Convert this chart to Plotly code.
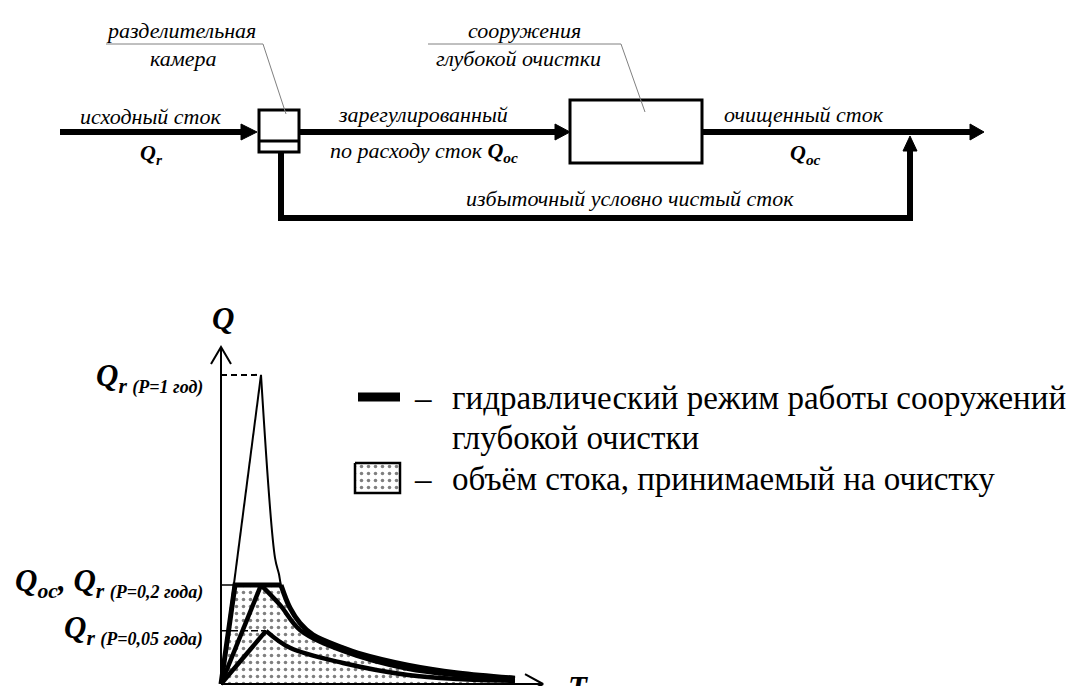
import plotly.graph_objects as go

# ---------------- chart data (arbitrary units: T - time, Q - discharge) ----------------
T_p1 = [0, 4.0, 5.4, 5.8, 6.0, 6.9, 7.9, 9.2, 12.2, 13.7, 18.7, 23.7, 29.4]
Q_p1 = [0, 10.0, 4.08, 3.55, 3.2, 2.46, 1.97, 1.59, 1.17, 1.0, 0.61, 0.36, 0.19]
T_reg = [0, 1.4, 6.0, 6.9, 7.9, 9.2, 12.2, 13.7, 18.7, 23.7, 29.4]
Q_reg = [0, 3.2, 3.2, 2.46, 1.97, 1.59, 1.17, 1.0, 0.61, 0.36, 0.19]
T_p02 = [0, 4.0, 5.9, 7.9, 12.2, 18.7, 23.7, 29.4]
Q_p02 = [0, 3.2, 2.56, 1.75, 1.07, 0.49, 0.29, 0.16]
T_p005 = [0, 4.5, 6.9, 12.2, 18.7, 23.7, 29.4]
Q_p005 = [0, 1.72, 1.17, 0.68, 0.29, 0.16, 0.10]
Q_MAX, T_MAX = 10.0, 4.0
Q_OC, T_OC = 3.2, 4.0
Q_LOW, T_LOW = 1.72, 4.5
T_END, Q_TOP = 32.2, 10.9

FONT = "Liberation Serif, Times New Roman, serif"
fig = go.Figure()

# ---------- chart traces (x2/y2) ----------
def line(x, y, w, shape="linear", dash=None, color="black"):
    fig.add_trace(go.Scatter(x=x, y=y, mode="lines", xaxis="x2", yaxis="y2",
                             line=dict(color=color, width=w, shape=shape, dash=dash),
                             hoverinfo="skip"))

PATTERN = dict(shape=".", fgcolor="black", bgcolor="white", size=7, solidity=0.2)

# stippled area under the hydraulic regime curve
fig.add_trace(go.Scatter(x=T_reg, y=Q_reg, mode="lines", xaxis="x2", yaxis="y2",
                         fill="tozeroy", line=dict(width=0, shape="spline", smoothing=0.3),
                         fillcolor="white", fillpattern=PATTERN, hoverinfo="skip"))

# axes
line([0, 0], [0, Q_TOP], 2)
line([0, T_END], [0, 0], 2)
line([-1.0, 0, 1.0], [Q_TOP - 0.55, Q_TOP, Q_TOP - 0.55], 2)
line([T_END - 1.8, T_END, T_END - 1.8], [0.32, 0, -0.32], 2)

# level lines
line([0, T_MAX], [Q_MAX, Q_MAX], 2, dash="6px,4px")
line([0, T_OC], [Q_OC, Q_OC], 1.5)
line([0, T_LOW], [Q_LOW, Q_LOW], 1.5, dash="7px,3px")

# P = 1 year hydrograph (thin)
ip = Q_p1.index(max(Q_p1))
line(T_p1[:ip + 1], Q_p1[:ip + 1], 2)
line(T_p1[ip:], Q_p1[ip:], 2, shape="spline")

# P = 0.05 year (thick)
ip = Q_p005.index(max(Q_p005))
line(T_p005[:ip + 1], Q_p005[:ip + 1], 4.5)
line(T_p005[ip:], Q_p005[ip:], 4.5, shape="spline")

# P = 0.2 year (thick)
ip = Q_p02.index(max(Q_p02))
line(T_p02[:ip + 1], Q_p02[:ip + 1], 4.5)
line(T_p02[ip:], Q_p02[ip:], 4.5, shape="spline")

# hydraulic regime of deep treatment facilities (thick)
line(T_reg[:3], Q_reg[:3], 5)
line(T_reg[2:], Q_reg[2:], 5, shape="spline")

# ---------- legend marks (pixel overlay axes x/y) ----------
fig.add_trace(go.Scatter(x=[350, 392], y=[389, 389], mode="lines",
                         line=dict(color="black", width=9), hoverinfo="skip"))
fig.add_trace(go.Scatter(x=[347, 392, 392, 347, 347], y=[455, 455, 485, 485, 455],
                         mode="lines", fill="toself", fillcolor="white", fillpattern=PATTERN,
                         line=dict(color="black", width=2.5), hoverinfo="skip"))

# ---------- flow diagram shapes ----------
shapes = []
def seg(x0, y0, x1, y1, w=6, color="black"):
    shapes.append(dict(type="line", xref="x", yref="y", x0=x0, y0=y0, x1=x1, y1=y1,
                       line=dict(color=color, width=w)))
def rect(x0, y0, x1, y1, w=3):
    shapes.append(dict(type="rect", xref="x", yref="y", x0=x0, y0=y0, x1=x1, y1=y1,
                       line=dict(color="black", width=w), fillcolor="white"))
def tri(path):
    shapes.append(dict(type="path", xref="x", yref="y", path=path,
                       fillcolor="black", line=dict(color="black", width=1)))
def poly(path, w, color="black"):
    shapes.append(dict(type="path", xref="x", yref="y", path=path,
                       line=dict(color=color, width=w)))

Y_MAIN = 124
seg(52, Y_MAIN, 234, Y_MAIN)
tri(f"M233,{Y_MAIN-8} L249,{Y_MAIN} L233,{Y_MAIN+8} Z")
seg(291, Y_MAIN, 548, Y_MAIN)
tri(f"M547,{Y_MAIN-8} L562,{Y_MAIN} L547,{Y_MAIN+8} Z")
seg(694, Y_MAIN, 963, Y_MAIN)
tri(f"M962,{Y_MAIN-8} L976,{Y_MAIN} L962,{Y_MAIN+8} Z")
poly("M273,144 L273,210 L902,210 L902,142", 6)
tri("M895,143 L902,128 L909,143 Z")
rect(251, 102, 291, 144)
seg(251, 133, 291, 133, w=3)
rect(562, 92, 694, 155)
# leader lines
poly("M278,106 L255,36 L98,36", 1, color="#808080")
poly("M637,104 L613,36 L420,36", 1, color="#808080")

# ---------- annotations ----------
ann = []
def txt(x, y, s, size, xanchor="center", yanchor="middle"):
    ann.append(dict(x=x, y=y, xref="x", yref="y", text=s, showarrow=False,
                    xanchor=xanchor, yanchor=yanchor,
                    font=dict(family=FONT, size=size, color="black")))

TS = 22
txt(173, 22, "<i>разделительная</i>", TS)
txt(175, 50, "<i>камера</i>", TS)
txt(516, 22, "<i>сооружения</i>", TS)
txt(510, 50, "<i>глубокой очистки</i>", TS)
txt(142, 108, "<i>исходный сток</i>", TS)
txt(143, 146, "<b><i>Q<sub>r</sub></i></b>", TS)
txt(415, 106, "<i>зарегулированный</i>", TS)
txt(416, 144, "<i>по расходу сток <b>Q<sub>oc</sub></b></i>", TS)
txt(796, 106, "<i>очищенный сток</i>", TS)
txt(797, 146, "<b><i>Q<sub>oc</sub></i></b>", TS)
txt(622, 190, "<i>избыточный условно чистый сток</i>", TS)

QS = 31
SUBS = "<span style='font-size:18px'>"
txt(215, 310, "<b><i>Q</i></b>", QS)
txt(570, 679, "<b><i>T</i></b>", QS)
txt(197, 370, f"<b><i>Q<sub>r {SUBS}(P=1 год)</span></sub></i></b>", QS, xanchor="right")
txt(197, 575, f"<b><i>Q<sub>oc</sub>, Q<sub>r {SUBS}(P=0,2 года)</span></sub></i></b>", QS, xanchor="right")
txt(197, 622, f"<b><i>Q<sub>r {SUBS}(P=0,05 года)</span></sub></i></b>", QS, xanchor="right")

LS = 33
txt(415, 390, "–", LS)
txt(442, 390, "гидравлический режим работы сооружений", LS, xanchor="left")
txt(442, 430, "глубокой очистки", LS, xanchor="left")
txt(415, 471, "–", LS)
txt(442, 471, "объём стока, принимаемый на очистку", LS, xanchor="left")

fig.update_layout(
    width=1086, height=686, margin=dict(l=0, r=0, t=0, b=0),
    paper_bgcolor="white", plot_bgcolor="rgba(0,0,0,0)", showlegend=False,
    xaxis=dict(domain=[0, 1], range=[0, 1086], visible=False, fixedrange=True),
    yaxis=dict(domain=[0, 1], range=[686, 0], visible=False, fixedrange=True),
    xaxis2=dict(domain=[190 / 1086, 560 / 1086], range=[-2.3, 34.7], anchor="y2",
                visible=False, fixedrange=True),
    yaxis2=dict(domain=[0, 350 / 686], range=[-10 / 30.9, 11], anchor="x2",
                visible=False, fixedrange=True),
    shapes=shapes, annotations=ann,
)
fig.write_html("out.html")
